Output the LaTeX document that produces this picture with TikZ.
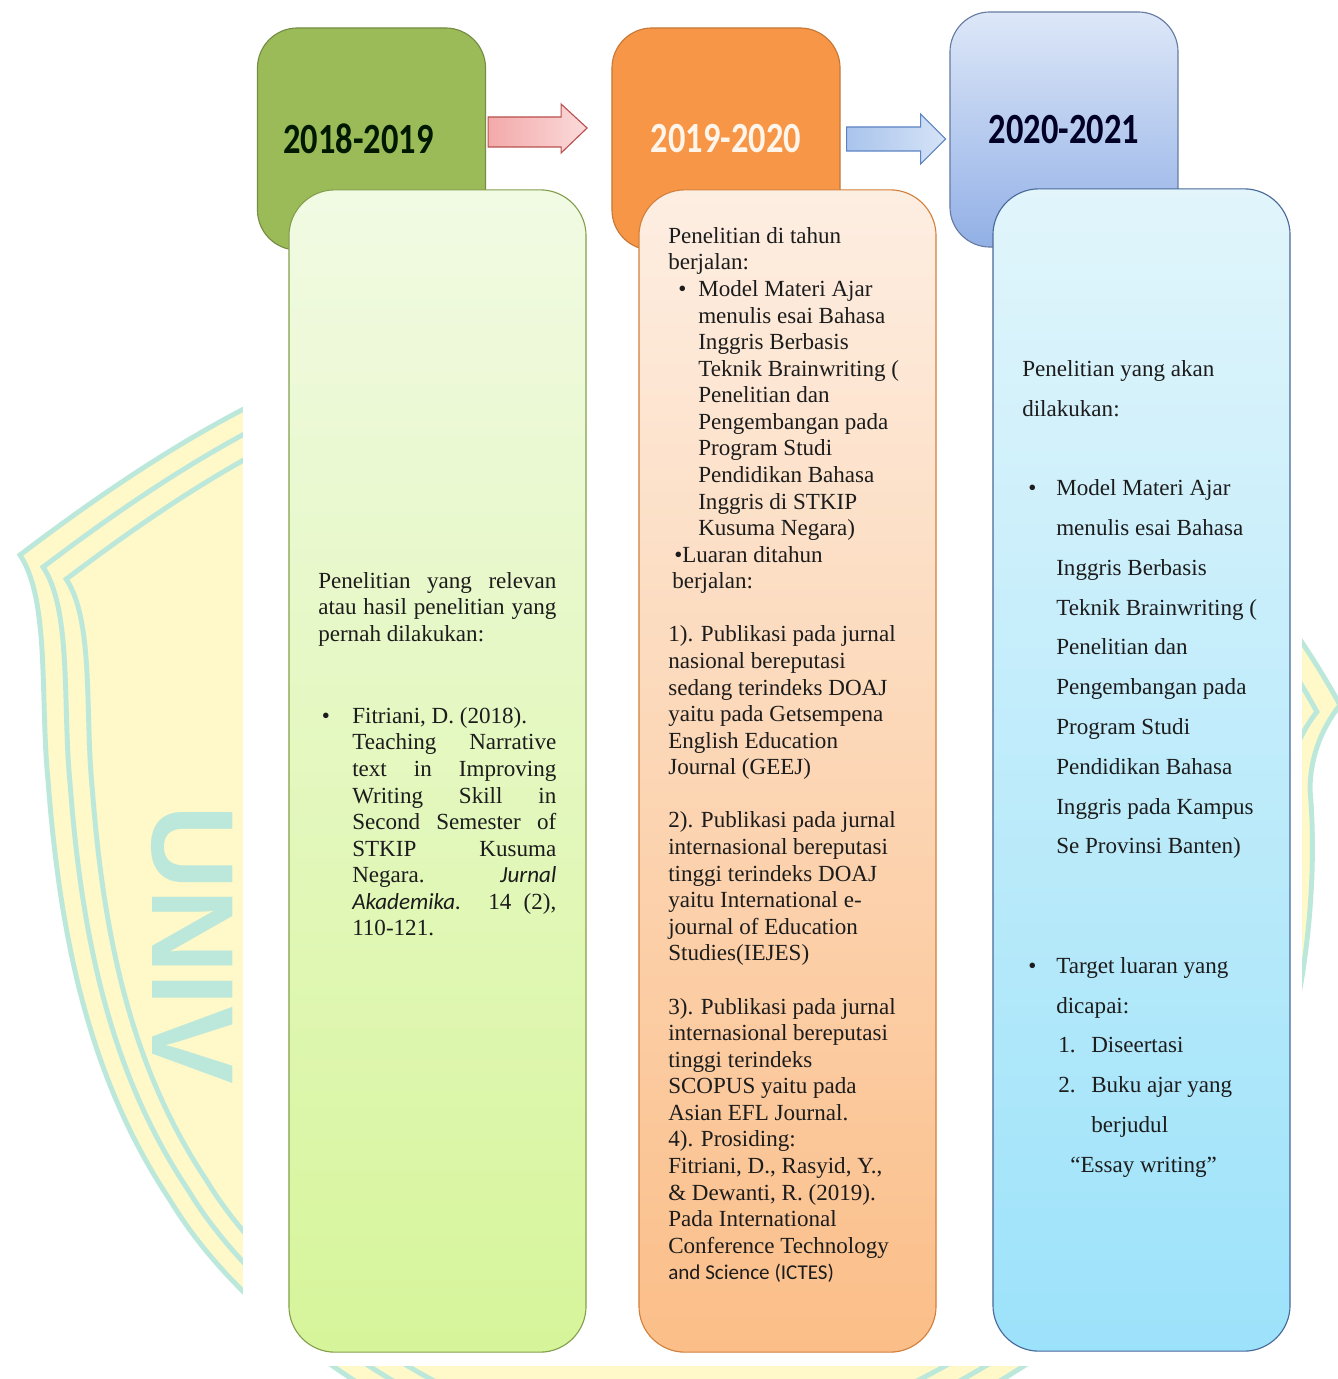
\documentclass[tikz,border=0pt]{standalone}
\usepackage{fontspec}
\usepackage{graphicx}
\setmainfont{Liberation Serif}
\newfontfamily\calibrifont{Carlito}
\newfontfamily\sealfont{Liberation Sans}
\usetikzlibrary{positioning,calc}
\setlength{\parindent}{0pt}
\definecolor{yrgreen}{HTML}{9BBB59}
\definecolor{yrorange}{HTML}{F79646}
\definecolor{yrbluetop}{HTML}{DDE7F8}
\definecolor{yrbluebot}{HTML}{92B0E6}
\definecolor{boxgreentop}{HTML}{F1FAE3}
\definecolor{boxgreenbot}{HTML}{D6F59A}
\definecolor{boxpeachtop}{HTML}{FDEEE2}
\definecolor{boxpeachbot}{HTML}{FBBE88}
\definecolor{boxcyantop}{HTML}{E1F5FB}
\definecolor{boxcyanbot}{HTML}{9CE2FA}
\definecolor{arrpink}{HTML}{F3A9A9}
\definecolor{arrpinklt}{HTML}{FBDADA}
\definecolor{arrred}{HTML}{B8504E}
\definecolor{arrblue}{HTML}{A9C4EC}
\definecolor{arrbluelt}{HTML}{D6E3F7}
\definecolor{arrbluedk}{HTML}{5B83C2}
\definecolor{wmyellow}{HTML}{FFF8C8}
\definecolor{wmteal}{HTML}{BCE8DC}
\definecolor{inkdark}{HTML}{1C1C1C}
\newcommand{\sealshape}{(680,300) .. controls (420,310) and (250,380) .. (20,555)
  .. controls (50,600) and (40,700) .. (48,780)
  .. controls (60,940) and (90,1080) .. (170,1200)
  .. controls (230,1300) and (380,1440) .. (680,1520)
  .. controls (900,1450) and (1100,1350) .. (1230,1180)
  .. controls (1300,1080) and (1320,900) .. (1310,790)
  .. controls (1310,760) and (1320,730) .. (1340,705)
  .. controls (1200,450) and (950,310) .. (680,300) -- cycle}

\begin{document}
\begin{tikzpicture}[x=0.025cm,y=-0.025cm,
  yearbox/.style={rectangle,rounded corners=1cm,minimum width=5.7cm,minimum height=5.55cm,
                  inner sep=0pt,line width=0.8pt,font=\calibrifont\bfseries\fontsize{24.5}{28}\selectfont},
  textbox/.style={rectangle,rounded corners=1.15cm,minimum width=7.425cm,minimum height=29.05cm,
                  inner sep=0pt,line width=0.8pt},
  bodytext/.style={inner sep=0pt,anchor=north west,align=left,text=inkdark,
                   font=\fontsize{16.4}{18.9}\selectfont},
  sealline/.style={draw=wmteal,line width=3.5pt}
]
\useasboundingbox (0,0) rectangle (1338,1379);
\fill[white] (0,0) rectangle (1338,1379);

% ---- Watermark seal behind the figure ------------------------
\fill[wmyellow] \sealshape;
\draw[sealline] \sealshape;
\foreach \s in {0.965,0.93}
  \draw[sealline,shift={(680,900)},scale=\s,shift={(-680,-900)}] \sealshape;
\node[rotate=-90,anchor=base west,inner sep=0pt,text=wmteal,
      font=\sealfont\bfseries\fontsize{83}{90}\selectfont] (sealtxt) at (152,805) {UNIV};

% ---- Figure area ----------------------------------------------
\fill[white] (243,0) rectangle (1302,1366);

% ---- Year boxes ------------------------------------------------
\node[yearbox,fill=yrgreen,draw=yrgreen!75!black,text=black!90!green] (yr1) at (371.5,139)
  {\scalebox{1}[1.25]{\hspace*{-0.65cm}2018-2019}};
\node[yearbox,fill=yrorange,draw=yrorange!80!black,text=orange!8] (yr2) at (726,139)
  {\scalebox{1}[1.25]{2019-2020}};
\node[yearbox,minimum height=5.875cm,top color=yrbluetop,bottom color=yrbluebot,
      draw=yrbluebot!70!black,text=blue!15!black] (yr3) at (1064,129.5)
  {\scalebox{1}[1.25]{2020-2021}};

% ---- Block arrows between the years ------------------------
\draw[line width=0.8pt,draw=arrred,left color=arrpink,right color=arrpinklt]
  ($(yr1.east)+(2,-22)$) -- ++(73,0) -- ++(0,-13) -- ++(26,24) -- ++(-26,25)
  -- ++(0,-6) -- ++(-73,0) -- cycle;
\draw[line width=0.8pt,draw=arrbluedk,left color=arrblue,right color=arrbluelt]
  ($(yr2.east)+(6,-12)$) -- ++(74,0) -- ++(0,-13) -- ++(25,25) -- ++(-25,25)
  -- ++(0,-13) -- ++(-74,0) -- cycle;

% ---- Text boxes --------------------------------------------
\node[textbox,top color=boxgreentop,bottom color=boxgreenbot,draw=yrgreen!85!black] (box1) at (437.5,771) {};
\node[textbox,top color=boxpeachtop,bottom color=boxpeachbot,draw=yrorange!85!black] (box2) at (787.5,771) {};
\node[textbox,top color=boxcyantop,bottom color=boxcyanbot,draw=arrbluedk!80!black] (box3) at (1141.5,770) {};

% ---- Column 1: earlier research ------------------------------
\node[bodytext,text width=5.95cm,align=justify] (txt1a) at (318,572)
  {Penelitian yang relevan\linebreak atau hasil penelitian yang\linebreak pernah dilakukan:};
\node[bodytext,text width=5.1cm,align=justify] (txt1b) at (352,707)
  {\llap{\textbullet\hspace{0.56cm}}Fitriani, D. (2018).\\
   Teaching Narrative\linebreak text in Improving\linebreak Writing Skill in\linebreak
   Second Semester of\linebreak STKIP Kusuma\linebreak
   Negara. {\calibrifont\itshape Jurnal}\linebreak
   {\calibrifont\itshape Akademika.} 14 (2),\linebreak 110-121.};

% ---- Column 2: current research ------------------------------
\node[bodytext] (txt2) at (668,227)
  {Penelitian di tahun\\
   berjalan:\\
   \hspace*{0.25cm}\makebox[0.5cm][l]{\textbullet}Model Materi Ajar\\
   \hspace*{0.75cm}menulis esai Bahasa\\
   \hspace*{0.75cm}Inggris Berbasis\\
   \hspace*{0.75cm}Teknik Brainwriting (\\
   \hspace*{0.75cm}Penelitian dan\\
   \hspace*{0.75cm}Pengembangan pada\\
   \hspace*{0.75cm}Program Studi\\
   \hspace*{0.75cm}Pendidikan Bahasa\\
   \hspace*{0.75cm}Inggris di STKIP\\
   \hspace*{0.75cm}Kusuma Negara)\\
   \hspace*{0.15cm}\textbullet Luaran ditahun\\
   \hspace*{0.1cm}berjalan:\\[18.9pt]
   1). Publikasi pada jurnal\\
   nasional bereputasi\\
   sedang terindeks DOAJ\\
   yaitu pada Getsempena\\
   English Education\\
   Journal (GEEJ)\\[18.9pt]
   2). Publikasi pada jurnal\\
   internasional bereputasi\\
   tinggi terindeks DOAJ\\
   yaitu International e-\\
   journal of Education\\
   Studies(IEJES)\\[18.9pt]
   3). Publikasi pada jurnal\\
   internasional bereputasi\\
   tinggi terindeks\\
   SCOPUS yaitu pada\\
   Asian EFL Journal.\\
   4). Prosiding:\\
   Fitriani, D., Rasyid, Y.,\\
   \& Dewanti, R. (2019).\\
   Pada International\\
   Conference Technology\\
   {\calibrifont\fontsize{15}{18.9}\selectfont and Science (ICTES)}};

% ---- Column 3: planned research ------------------------------
\node[bodytext,font=\fontsize{16.4}{28.3}\selectfont] (txt3) at (1022,360)
  {Penelitian yang akan\\
   dilakukan:\\[28.3pt]
   \hspace*{0.15cm}\makebox[0.7cm][l]{\textbullet}Model Materi Ajar\\
   \hspace*{0.85cm}menulis esai Bahasa\\
   \hspace*{0.85cm}Inggris Berbasis\\
   \hspace*{0.85cm}Teknik Brainwriting (\\
   \hspace*{0.85cm}Penelitian dan\\
   \hspace*{0.85cm}Pengembangan pada\\
   \hspace*{0.85cm}Program Studi\\
   \hspace*{0.85cm}Pendidikan Bahasa\\
   \hspace*{0.85cm}Inggris pada Kampus\\
   \hspace*{0.85cm}Se Provinsi Banten)\\[56.6pt]
   \hspace*{0.15cm}\makebox[0.7cm][l]{\textbullet}Target luaran yang\\
   \hspace*{0.85cm}dicapai:\\
   \hspace*{0.9cm}\makebox[0.825cm][l]{1.}Diseertasi\\
   \hspace*{0.9cm}\makebox[0.825cm][l]{2.}Buku ajar yang\\
   \hspace*{1.725cm}berjudul\\
   \hspace*{1.2cm}``Essay writing''};

\end{tikzpicture}
\end{document}
